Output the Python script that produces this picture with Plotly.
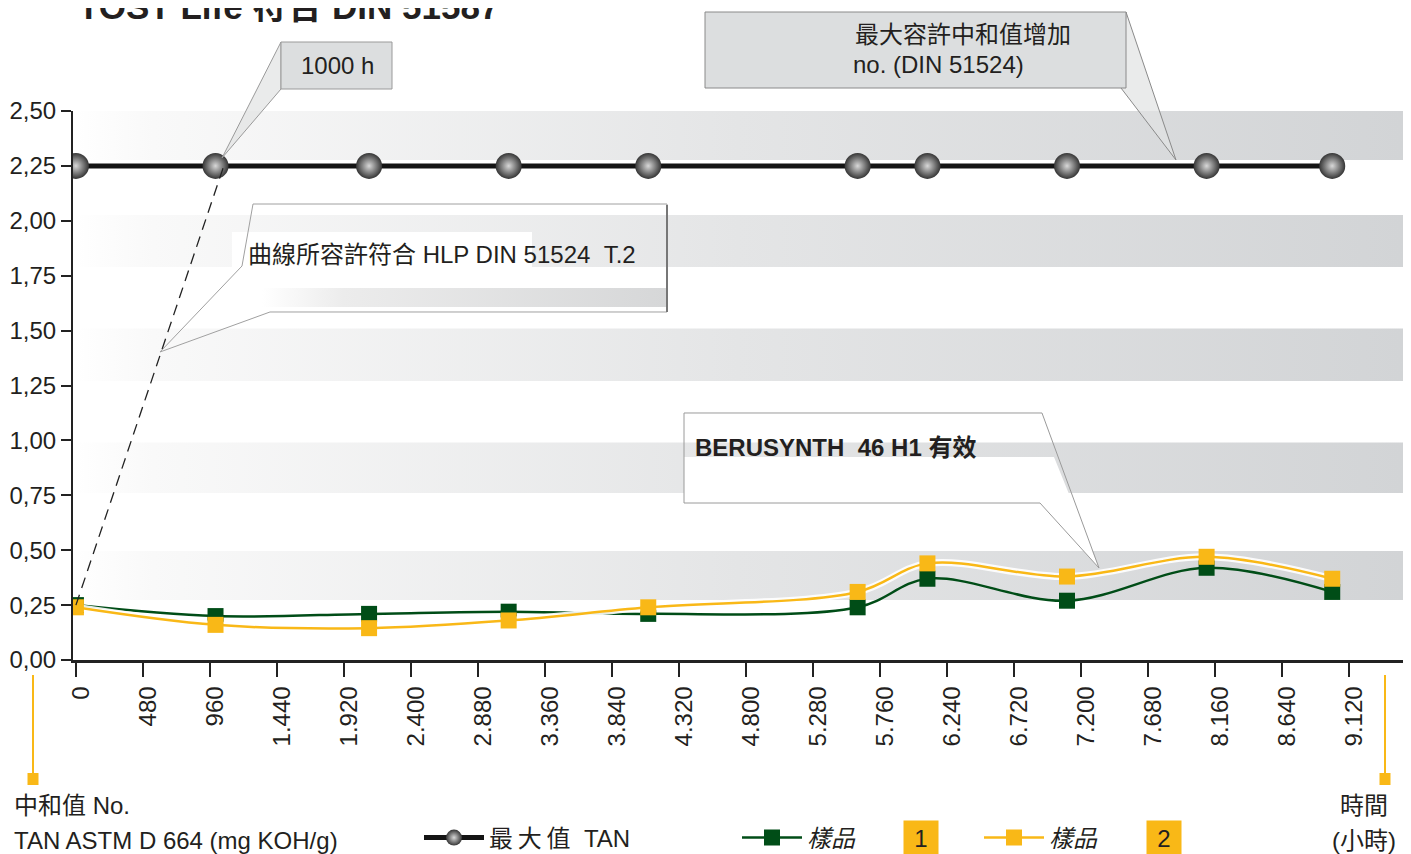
import plotly.graph_objects as go

# ---------------- data ----------------
hours = [0, 1000, 2100, 3100, 4100, 5600, 6100, 7100, 8100, 9000]
max_tan = [2.25, 2.25, 2.25, 2.25, 2.25, 2.25, 2.25, 2.25, 2.25, 2.25]
sample1 = [0.25, 0.20, 0.21, 0.22, 0.21, 0.24, 0.37, 0.27, 0.42, 0.31]
sample2 = [0.24, 0.16, 0.145, 0.18, 0.24, 0.31, 0.44, 0.38, 0.47, 0.37]
x_ticks = [0, 480, 960, 1440, 1920, 2400, 2880, 3360, 3840, 4320, 4800,
           5280, 5760, 6240, 6720, 7200, 7680, 8160, 8640, 9120]
y_ticks = [0, 0.25, 0.5, 0.75, 1.0, 1.25, 1.5, 1.75, 2.0, 2.25, 2.5]
band_lo = [0.273, 0.76, 1.27, 1.79, 2.277]
band_hi = [0.496, 0.99, 1.51, 2.026, 2.50]
dash_x = [0, 1070]
dash_y = [0.25, 2.27]

title_text = "<b>TOST Life 符合 DIN 51587</b>"
name_max = "最\u2009大\u2009值\u00a0\u00a0TAN"
name_s1 = "<i>樣品</i>"
name_s2 = "<i>樣品</i>"

# ---------------- geometry helpers (screen pixels -> paper) ----------------
OFF = 8                      # page body margin
W, H = 1411 - OFF, 854 - OFF
L, R, T, B = 73 - OFF, 8, 111 - OFF, 194
PW, PH = W - L - R, H - T - B
X_RANGE = [-21, 9507]
Y_RANGE = [0, 2.5]


def xp(px):
    return (px - OFF - L) / PW


def yp(py):
    return (H - B - (py - OFF)) / PH


def xd(px):
    return X_RANGE[0] + (px - OFF - L) / PW * (X_RANGE[1] - X_RANGE[0])


def yd(py):
    return Y_RANGE[0] + yp(py) * (Y_RANGE[1] - Y_RANGE[0])


def path(pts, close=True):
    s = "M" + " L".join(f"{xp(a):.5f},{yp(b):.5f}" for a, b in pts)
    return s + (" Z" if close else "")


FONT = "Liberation Sans, Arial, Noto Sans CJK TC, sans-serif"
TXT = "#231f20"
ORANGE = "#f9b817"
GREEN = "#004d17"

fig = go.Figure()

# background gradient bands
for lo, hi in zip(band_lo, band_hi):
    fig.add_trace(go.Scatter(
        x=[X_RANGE[0], X_RANGE[1], X_RANGE[1], X_RANGE[0], X_RANGE[0]],
        y=[lo, lo, hi, hi, lo], mode="lines", line=dict(width=0),
        fill="toself",
        fillgradient=dict(type="horizontal", start=X_RANGE[0], stop=X_RANGE[1],
                          colorscale=[[0, "#ffffff"], [0.06, "#f9f9f9"],
                                      [0.5, "#e4e5e6"], [1, "#d2d4d6"]]),
        hoverinfo="skip", showlegend=False))

# gradient strip inside the "HLP" callout
sx0, sx1, sy0, sy1 = xd(262), xd(667), yd(307), yd(288)
fig.add_trace(go.Scatter(
    x=[sx0, sx1, sx1, sx0, sx0], y=[sy0, sy0, sy1, sy1, sy0], mode="lines",
    line=dict(width=0), fill="toself",
    fillgradient=dict(type="horizontal", start=sx0, stop=sx1,
                      colorscale=[[0, "#ffffff"], [0.2, "#ececec"], [1, "#d6d7d8"]]),
    hoverinfo="skip", showlegend=False))

# max TAN
fig.add_trace(go.Scatter(
    x=hours, y=max_tan, mode="lines+markers", name=name_max, legend="legend",
    line=dict(color="#141414", width=5),
    marker=dict(size=26, color="#353535", line=dict(width=0),
                gradient=dict(type="radial", color="#d8d8d8"))))

# sample 1
fig.add_trace(go.Scatter(
    x=hours, y=sample1, mode="lines+markers", name=name_s1, legend="legend2",
    line=dict(color=GREEN, width=2.5, shape="spline", smoothing=1.0),
    marker=dict(symbol="square", size=16, color=GREEN)))

# sample 2 (white halo + line)
fig.add_trace(go.Scatter(
    x=hours, y=sample2, mode="lines", showlegend=False, hoverinfo="skip",
    line=dict(color="rgba(255,255,255,0.9)", width=7, shape="spline", smoothing=1.0)))
fig.add_trace(go.Scatter(
    x=hours, y=sample2, mode="lines+markers", name=name_s2, legend="legend3",
    line=dict(color=ORANGE, width=2.5, shape="spline", smoothing=1.0),
    marker=dict(symbol="square", size=16, color=ORANGE)))

shapes = []
# dashed guide line
shapes.append(dict(type="line", xref="x", yref="y", x0=dash_x[0], y0=dash_y[0],
                   x1=dash_x[1], y1=dash_y[1],
                   line=dict(color="#222", width=1.3, dash="11px,7px")))

# callout "1000 h"
shapes.append(dict(type="path", xref="paper", yref="paper",
                   path=path([(281, 42), (222, 158), (281, 89)]),
                   fillcolor="rgba(225,226,227,0.7)", line=dict(color="#9a9a9a", width=1)))
shapes.append(dict(type="rect", xref="paper", yref="paper",
                   x0=xp(281), x1=xp(392), y0=yp(89), y1=yp(42),
                   fillcolor="#dcdedf", line=dict(color="#9a9a9a", width=1)))

# callout "最大容許中和值增加"
shapes.append(dict(type="path", xref="paper", yref="paper",
                   path=path([(1126, 12), (1176, 160), (1121, 88)]),
                   fillcolor="rgba(225,226,227,0.7)", line=dict(color="#8a8a8a", width=1)))
shapes.append(dict(type="rect", xref="paper", yref="paper",
                   x0=xp(705), x1=xp(1126), y0=yp(88), y1=yp(12),
                   fillcolor="#dcdedf", line=dict(color="#8a8a8a", width=1)))

# callout "曲線所容許符合 ..."
shapes.append(dict(type="rect", xref="paper", yref="paper",
                   x0=xp(232), x1=xp(532), y0=yp(288), y1=yp(232),
                   fillcolor="white", line=dict(width=0)))
shapes.append(dict(type="rect", xref="paper", yref="paper",
                   x0=xp(532), x1=xp(667), y0=yp(288), y1=yp(267),
                   fillcolor="white", line=dict(width=0)))
shapes.append(dict(type="path", xref="paper", yref="paper",
                   path=path([(253, 204), (667, 204), (667, 312), (270, 312),
                              (160, 352), (242, 266)]),
                   fillcolor="rgba(0,0,0,0)", line=dict(color="#a0a0a0", width=1)))
shapes.append(dict(type="line", xref="paper", yref="paper",
                   x0=xp(667), x1=xp(667), y0=yp(312), y1=yp(205),
                   line=dict(color="#777", width=2)))

# callout "BERUSYNTH"
shapes.append(dict(type="path", xref="paper", yref="paper",
                   path=path([(684, 457), (1054, 457), (1099, 568), (1040, 503), (684, 503)]),
                   fillcolor="white", line=dict(width=0)))
shapes.append(dict(type="path", xref="paper", yref="paper",
                   path=path([(1040, 503), (684, 503), (684, 413), (1042, 413), (1099, 568),
                              (1040, 503)], close=False),
                   fillcolor="rgba(0,0,0,0)", line=dict(color="#9a9a9a", width=1)))

# orange end markers below axis
for xpix in (33, 1385):
    shapes.append(dict(type="line", xref="paper", yref="paper",
                       x0=xp(xpix), x1=xp(xpix), y0=yp(675), y1=yp(776),
                       line=dict(color=ORANGE, width=2)))
    shapes.append(dict(type="rect", xref="paper", yref="paper",
                       x0=xp(xpix - 5.5), x1=xp(xpix + 5.5), y0=yp(785), y1=yp(773),
                       fillcolor=ORANGE, line=dict(width=0)))


def ann(text, x, y, size=24, xanchor="left", **kw):
    d = dict(text=text, x=xp(x), y=yp(y), xref="paper", yref="paper",
             xanchor=xanchor, yanchor="middle", showarrow=False,
             font=dict(family=FONT, size=size, color=TXT))
    d.update(kw)
    return d


annotations = [
    ann(title_text, 76, 6, size=35),
    ann("1000 h", 337, 66, xanchor="center"),
    ann("最大容許中和值增加", 853, 35),
    ann("no. (DIN 51524)", 851, 64),
    ann("曲線所容許符合 HLP DIN 51524\u00a0\u00a0T.2", 246, 254),
    ann("<b>BERUSYNTH\u00a0\u00a046 H1 有效</b>", 693, 447),
    ann("中和值 No.", 12, 805),
    ann("TAN ASTM D 664 (mg KOH/g)", 12, 840),
    ann("時間", 1364, 805, xanchor="center"),
    ann("(小時)", 1364, 840, xanchor="center"),
    ann("1", 921, 838, xanchor="center", bgcolor=ORANGE, width=34, height=34,
        borderpad=0),
    ann("2", 1164, 838, xanchor="center", bgcolor=ORANGE, width=34, height=34,
        borderpad=0),
]

legend_common = dict(orientation="h", xanchor="left", yanchor="middle",
                     y=yp(838), bgcolor="rgba(0,0,0,0)", itemwidth=60,
                     font=dict(family=FONT, size=24, color=TXT))

fig.update_layout(
    width=W, height=H, autosize=False,
    margin=dict(l=L, r=R, t=T, b=B, pad=0, autoexpand=False),
    paper_bgcolor="white", plot_bgcolor="white",
    separators=",.",
    font=dict(family=FONT, size=24, color=TXT),
    xaxis=dict(range=X_RANGE, tickvals=x_ticks, tickformat=",d", tickangle=-90,
               showline=True, linecolor="#222", linewidth=2.5, ticks="outside",
               ticklen=14, tickwidth=2, tickcolor="#222", showgrid=False,
               zeroline=False, ticklabelshift=5, automargin=False,
               tickfont=dict(family=FONT, size=24, color=TXT)),
    yaxis=dict(range=Y_RANGE, tickvals=y_ticks, tickformat=".2f",
               showline=True, linecolor="#222", linewidth=2, ticks="outside",
               ticklen=10, tickwidth=2, tickcolor="#222", showgrid=False,
               zeroline=False, automargin=False,
               tickfont=dict(family=FONT, size=24, color=TXT)),
    shapes=shapes,
    annotations=annotations,
    legend=dict(x=xp(419), **legend_common),
    legend2=dict(x=xp(737), **legend_common),
    legend3=dict(x=xp(979), **legend_common),
)

fig.write_html("out.html")
